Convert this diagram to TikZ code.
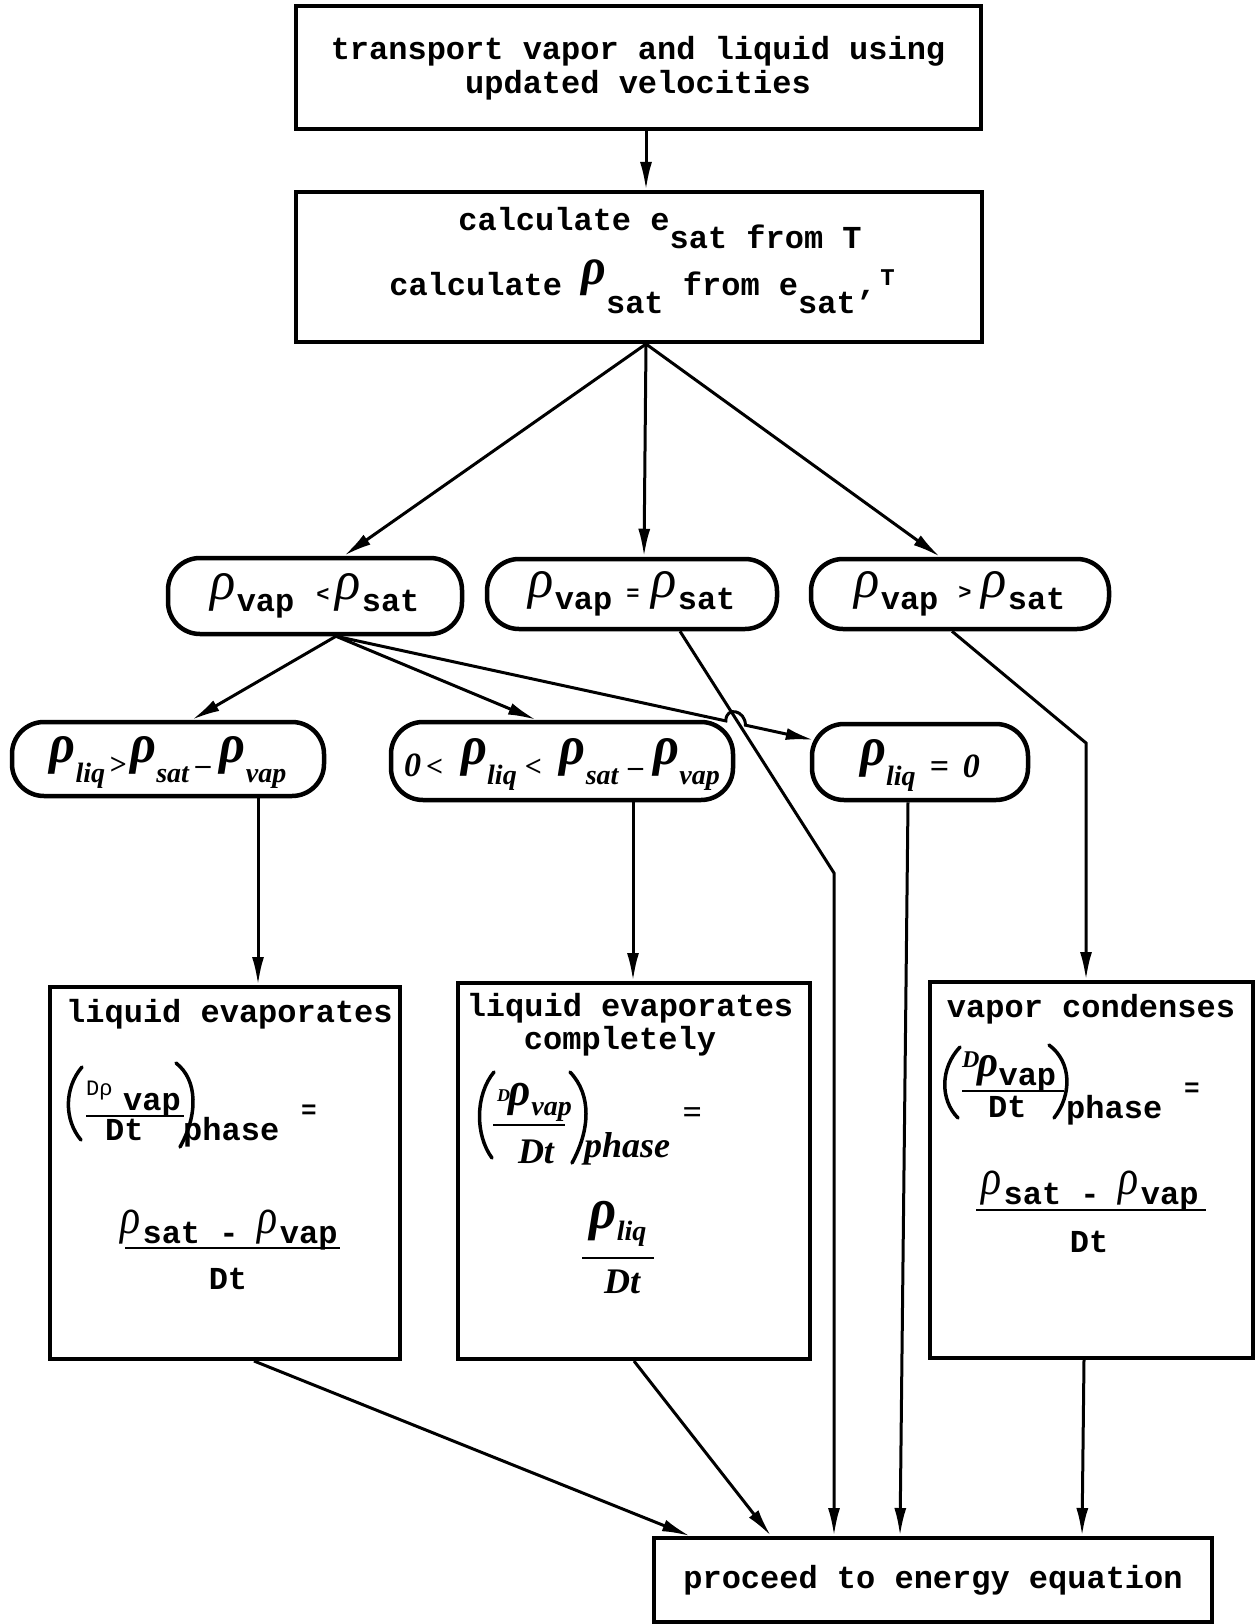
\documentclass[tikz,border=0pt]{standalone}
\usepackage{fontspec}
\setmainfont{Liberation Mono}
\newfontfamily\rhofont{Liberation Serif}
\usepackage{graphicx}
\usetikzlibrary{arrows.meta,calc}

\newcommand\mainsize{\fontsize{32}{34}\selectfont\bfseries}
% rho glyphs: #1 font size, #2 raise
\newcommand\Rg[2]{\raisebox{#2}{\scalebox{1.1}[1.32]{\rhofont\mdseries\itshape\fontsize{#1}{#1}\selectfont ρ}}}
\newcommand\Rb[2]{\raisebox{#2}{\scalebox{1.2}[1.32]{\rhofont\bfseries\itshape\fontsize{#1}{#1}\selectfont ρ}}}
\newcommand\Ro{\raisebox{12pt}{\scalebox{1.25}[1.32]{\rhofont\mdseries\itshape\fontsize{42}{42}\selectfont ρ}}\hspace{1pt}}
\newcommand\Rs{\Rg{38}{10pt}\hspace{2pt}}
\newcommand\Rh{\Rb{42}{12pt}}
\newcommand\HW[2][32]{{\rhofont\bfseries\itshape\fontsize{#1}{#1}\selectfont #2}}
\newcommand\HS[1]{\raisebox{-8pt}{\rhofont\bfseries\itshape\fontsize{28}{28}\selectfont #1}}
\newcommand\LOW[1]{\raisebox{-18pt}{#1}}
\newcommand\UPR[2][8pt]{\raisebox{#1}{#2}}

\tikzset{
  box/.style={draw, line width=4pt, inner sep=0pt},
  oval/.style={draw, line width=4.5pt, rounded corners=32pt, inner sep=0pt, text height=33pt, text depth=3pt},
  arr/.style={line width=3pt, -{Latex[length=28pt,width=12pt]}},
  txt/.style={inner sep=0pt},
  fbar/.style={line width=2.5pt},
  paren/.style={line width=3.5pt, line cap=round},
}

\begin{document}
\begin{tikzpicture}[x=1pt,y=-1pt,font=\mainsize]
\useasboundingbox (0,0) rectangle (1254,1624);

% top boxes
\node[box, minimum width=685pt, minimum height=123pt, align=center] (b1) at (638,68) {transport vapor and liquid using\\updated velocities};
\node[box, minimum width=686pt, minimum height=150pt] (b2) at (639,267) {};
\node[txt, anchor=base] (t2a) at (660,230) {calculate e\LOW{sat from T}};
\node[txt, anchor=base] (t2b) at (642,295) {calculate \Rb{40}{11pt}\LOW{sat} from e\LOW{sat’}\,\UPR[10pt]{\fontsize{24}{24}\selectfont T}};

% first row of ovals
\node[oval, minimum width=294pt, minimum height=76pt] (o1) at (315,596) {\Ro vap\hspace{22pt}\UPR[10pt]{\fontsize{22}{22}\selectfont<}\hspace{6pt}\Ro sat};
\node[oval, minimum width=290pt, minimum height=70pt] (o2) at (632,594) {\Ro vap\hspace{14pt}\UPR[9pt]{\fontsize{22}{22}\selectfont=}\hspace{12pt}\Ro sat};
\node[oval, minimum width=298pt, minimum height=70pt] (o3) at (960,594) {\Ro vap\hspace{20pt}\UPR[10pt]{\fontsize{22}{22}\selectfont>}\hspace{10pt}\Ro sat};

% second row of ovals
\node[oval, minimum width=312pt, minimum height=74pt] (o4) at (168,759) {\Rh\HS{liq}\hspace{4pt}\HW[30]{>}\hspace{4pt}\Rh\HS{sat}\hspace{7pt}\HW[30]{–}\hspace{9pt}\Rh\HS{vap}};
\node[oval, minimum width=342pt, minimum height=78pt] (o5) at (562,761) {\HW[34]{0}\hspace{5pt}\HW[30]{<}\hspace{18pt}\Rh\HS{liq}\hspace{8pt}\HW[30]{<}\hspace{18pt}\Rh\HS{sat}\hspace{10pt}\HW[30]{–}\hspace{10pt}\Rh\HS{vap}};
\node[oval, minimum width=216pt, minimum height=76pt] (o6) at (920,762) {\Rh\HS{liq}\hspace{14pt}\HW[34]{=}\hspace{14pt}\HW[34]{0}};

% result boxes
\node[box, minimum width=350pt, minimum height=372pt] (b4) at (225,1173) {};
\node[box, minimum width=352pt, minimum height=376pt] (b5) at (634,1171) {};
\node[box, minimum width=323pt, minimum height=376pt] (b6) at (1091,1170) {};
\node[box, minimum width=558pt, minimum height=84pt] (pr) at (933,1580) {proceed to energy equation};

% box 4 contents
\node[txt, anchor=base west] (t4a) at (66,1022) {liquid evaporates};
\draw[paren] (82,1067) .. controls (64,1088) and (64,1120) .. (81,1140);
\node[txt, anchor=base west, font=\fontsize{22}{22}\selectfont] (f4n1) at (86,1095) {Dρ};
\node[txt, anchor=base west] (f4n2) at (123,1110) {vap};
\draw[fbar] (86,1116) -- (184,1116);
\node[txt, anchor=base west] (f4d) at (105,1140) {Dt};
\draw[paren] (176,1063) .. controls (198,1080) and (198,1115) .. (180,1147);
\node[txt, anchor=base west] (f4p) at (183,1140) {phase};
\node[txt, font=\fontsize{26}{26}\selectfont\bfseries] (f4e) at (309,1112) {=};
\node[txt, anchor=base] (f4nn) at (229,1243) {\Rs sat - \Rs vap};
\draw[fbar] (125,1248) -- (340,1248);
\node[txt, anchor=base] (f4dd) at (228,1289) {Dt};

% box 5 contents
\node[txt, anchor=base] (t5a) at (630,1016) {liquid evaporates};
\node[txt, anchor=base] (t5b) at (620,1049) {completely};
\draw[paren] (494,1072) .. controls (475,1095) and (475,1135) .. (492,1158);
\node[txt, anchor=base west] (f5n) at (497,1115) {\raisebox{14pt}{\HW[18]{D}}\hspace{-2pt}\Rb{36}{10pt}\hspace{1pt}\HW[28]{vap}};
\draw[fbar] (493,1125) -- (565,1125);
\node[txt, anchor=base] (f5d) at (536,1163) {\HW[36]{Dt}};
\draw[paren] (570,1072) .. controls (592,1095) and (590,1130) .. (572,1163);
\node[txt, anchor=base west] (f5p) at (584,1157) {\HW[36]{phase}};
\node[txt] (f5e) at (692,1116) {\HW[34]{=}};
\node[txt, anchor=base] (f5nn) at (618,1240) {\Rb{44}{12pt}\HW[28]{liq}};
\draw[fbar] (582,1258) -- (654,1258);
\node[txt, anchor=base] (f5dd) at (622,1293) {\HW[36]{Dt}};

% box 6 contents
\node[txt, anchor=base] (t6a) at (1091,1017) {vapor condenses};
\draw[paren] (960,1047) .. controls (940,1068) and (940,1100) .. (958,1118);
\node[txt, anchor=base west] (f6n) at (962,1085) {\raisebox{18pt}{\HW[24]{D}}\hspace{-2pt}\Rb{34}{9pt}vap};
\draw[fbar] (962,1091) -- (1064,1091);
\node[txt, anchor=base west] (f6d) at (988,1117) {Dt};
\draw[paren] (1049,1045) .. controls (1072,1062) and (1072,1095) .. (1054,1118);
\node[txt, anchor=base west] (f6p) at (1066,1118) {phase};
\node[txt, font=\fontsize{26}{26}\selectfont\bfseries] (f6e) at (1192,1090) {=};
\node[txt, anchor=base] (f6nn) at (1090,1204) {\Rs sat - \Rs vap};
\draw[fbar] (976,1210) -- (1206,1210);
\node[txt, anchor=base] (f6dd) at (1089,1252) {Dt};

% connectors
\coordinate (xA) at (646,0);
\draw[arr] (b1.south -| xA) -- (b2.north -| xA);
\coordinate (s2) at ($(b2.south)+(7,0)$);
\draw[arr] (s2) -- ($(o1.north)+(29,0)$);
\draw[arr] (s2) -- ($(o2.north)+(12,0)$);
\draw[arr] (s2) -- ($(o3.north)+(-20,0)$);

\coordinate (s1) at ($(o1.south)+(21,0)$);
\coordinate (e6) at ($(o6.west)+(4,-22)$);
\draw[arr] (s1) -- ($(o4.north)+(24,0)$);
\draw[arr] (s1) -- ($(o5.north)+(-26,0)$);
\draw[arr] (s1) -- ($(s1)!0.816!(e6)$) .. controls +(0,-15) and +(0,-15) .. ($(s1)!0.857!(e6)$) -- (e6);

\coordinate (k2) at (834,873);
\draw[arr] ($(o2.south)+(48,0)$) -- (k2) -- (k2 |- pr.north);
\coordinate (k3) at (1086,743);
\draw[arr] ($(o3.south)+(-8,0)$) -- (k3) -- (k3 |- b6.north);

\coordinate (x4) at ($(o4.south)+(90,0)$);
\draw[arr] (x4) -- (x4 |- b4.north);
\coordinate (x5) at ($(o5.south)+(71,0)$);
\draw[arr] (x5) -- (x5 |- b5.north);
\draw[arr] ($(o6.south)+(-12,0)$) -- ($(pr.north)+(-33,0)$);

\draw[arr] ($(b4.south)+(29,0)$) -- ($(pr.north)+(-243,0)$);
\draw[arr] (b5.south) -- ($(pr.north)+(-162,0)$);
\draw[arr] ($(b6.south)+(-7,0)$) -- ($(pr.north)+(149,0)$);
\end{tikzpicture}
\end{document}
